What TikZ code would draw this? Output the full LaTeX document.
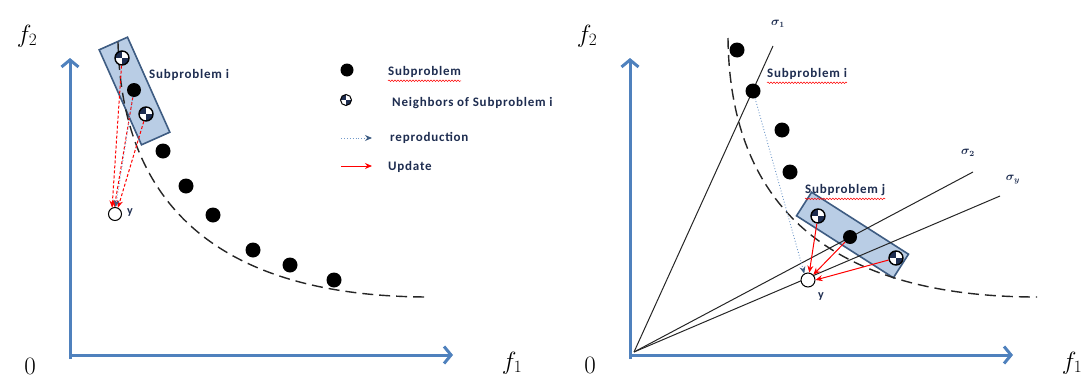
\documentclass[tikz,border=0pt]{standalone}
\usepackage{fontspec}
\setsansfont{Carlito}
\usetikzlibrary{arrows.meta,decorations.pathmorphing}

\definecolor{axisblue}{RGB}{79,129,189}
\definecolor{boxfill}{RGB}{185,205,229}
\definecolor{boxline}{RGB}{62,92,130}
\definecolor{labnavy}{RGB}{30,45,80}

\tikzset{
  axis/.style={axisblue,line width=3pt,-{Straight Barb[length=7pt,width=17pt]}},
  dot/.style={circle,fill=black,inner sep=0pt,minimum size=15pt},
  nbr/.style={circle,draw=black,line width=1.4pt,fill=white,inner sep=0pt,minimum size=14pt,
    path picture={
      \fill[labnavy] (path picture bounding box.center) rectangle (path picture bounding box.north west);
      \fill[labnavy] (path picture bounding box.center) rectangle (path picture bounding box.south east);
    }},
  sol/.style={circle,draw=black,fill=white,line width=1pt,inner sep=0pt,minimum size=13pt},
  subbox/.style={draw=boxline,line width=1.6pt,fill=boxfill,inner sep=0pt},
  lab/.style={font=\sffamily\bfseries\fontsize{13}{15}\selectfont\addfontfeature{LetterSpace=6},
    text=labnavy,inner sep=0pt,anchor=west},
  ylab/.style={font=\sffamily\bfseries\fontsize{12}{14}\selectfont,text=labnavy,inner sep=0pt,anchor=west},
  sig/.style={font=\fontsize{12}{14}\selectfont\boldmath,text=labnavy,inner sep=0pt},
  axlab/.style={font=\fontsize{25}{30}\selectfont,inner sep=0pt,anchor=base},
  upd/.style={red,line width=1pt,-{Stealth[length=7pt,width=6pt]}},
  updl/.style={upd,densely dashed},
  reprod/.style={axisblue!80,line width=0.9pt,dotted,-{Stealth[length=7pt,width=6pt,color=boxline]}},
  squig/.style={red,line width=0.5pt,decorate,decoration={snake,amplitude=0.8pt,segment length=3pt}},
  ray/.style={black!85,line width=1pt},
  front/.style={black!85,line width=1.4pt,dash pattern=on 11pt off 6pt}
}

\begin{document}
\begin{tikzpicture}[x=1pt,y=-1pt]
  \useasboundingbox (0,0) rectangle (1087,383);

  % ---- left panel ----
  \node[subbox,minimum width=104pt,minimum height=31pt,rotate=-66] (boxi) at (134.5,91) {};
  \draw[front] (118,42) .. controls (122,230) and (250,297) .. (430,297);
  \coordinate (ol) at (70,359);
  \coordinate (olt) at (70,58);
  \coordinate (olx) at (70,355);
  \coordinate (olr) at (453,355);
  \draw[axis] (ol) -- (olt);
  \draw[axis] (olx) -- (olr);
  \node[axlab] (f2l) at (27,42) {$f_2$};
  \node[axlab] (f1l) at (512,369) {$f_1$};
  \node[axlab] (zl) at (30,374) {0};

  \foreach \x/\y [count=\k] in {163/151,186/186,213/215,253/250,290/265,334/280}
    \node[dot] (p\k) at (\x,\y) {};
  \node[nbr] (ni1) at (122,58) {};
  \node[dot,minimum size=14pt] (mi) at (134,90) {};
  \node[nbr] (ni2) at (146,114) {};
  \node[lab] (lbi) at (149,75) {Subproblem i};

  \node[sol] (yl) at (115,214) {};
  \node[ylab] (yll) at (127,213) {y};
  \draw[updl] (ni1) -- (yl.115);
  \draw[updl] (mi) -- (yl.95);
  \draw[updl] (ni2) -- (yl.65);
  \draw[reprod] (mi) -- (yl.85);

  % ---- legend ----
  \node[dot,minimum size=13pt] (lgd1) at (347,70) {};
  \node[lab] (lgt1) at (388,72) {Subproblem};
  \draw[squig] ([yshift=-3pt]lgt1.south west) -- ([yshift=-3pt]lgt1.south east);
  \node[nbr,minimum size=11pt,line width=1pt] (lgd2) at (346,100) {};
  \node[lab] (lgt2) at (392,103) {Neighbors of Subproblem i};
  \coordinate (lr1) at (341,138);
  \coordinate (lr2) at (372,138);
  \draw[reprod] (lr1) -- (lr2);
  \node[lab] (lgt3) at (390,138) {reproduction};
  \coordinate (lu1) at (341,166);
  \coordinate (lu2) at (372,166);
  \draw[upd] (lu1) -- (lu2);
  \node[lab] (lgt4) at (388,167) {Update};

  % ---- right panel ----
  \node[subbox,minimum width=115pt,minimum height=28pt,rotate=-32.6] (boxj) at (852.5,235) {};
  \coordinate (or) at (630,359);
  \coordinate (ort) at (630,58);
  \coordinate (orx) at (630,355);
  \coordinate (orr) at (1013,355);
  \draw[axis] (or) -- (ort);
  \draw[axis] (orx) -- (orr);
  \node[axlab] (f2r) at (587,42) {$f_2$};
  \node[axlab] (f1r) at (1072,369) {$f_1$};
  \node[axlab] (zr) at (590,373) {0};

  \coordinate (o2) at (634,352);
  \coordinate (s1) at (773,46);
  \coordinate (s2) at (973,172);
  \coordinate (sy) at (1000,196);
  \draw[ray] (o2) -- (s1);
  \draw[ray] (o2) -- (s2);
  \draw[ray] (o2) -- (sy);
  \node[sig] (ls1) at (778,24) {$\sigma_1$};
  \node[sig] (ls2) at (968,153) {$\sigma_2$};
  \node[sig] (lsy) at (1013,180) {$\sigma_y$};

  \draw[front] (728,38) .. controls (730,230) and (860,297) .. (1037,297);

  \foreach \x/\y [count=\k] in {737/50,753/91,782/130,790/172}
    \node[dot] (q\k) at (\x,\y) {};
  \node[lab] (lbri) at (767,74) {Subproblem i};
  \draw[squig] ([yshift=-3pt]lbri.south west) -- ([yshift=-3pt]lbri.south east);

  \node[nbr] (nj1) at (818,216) {};
  \node[dot,minimum size=14pt] (mj) at (850,237) {};
  \node[nbr] (nj2) at (896,258) {};
  \node[lab] (lbj) at (805,190) {Subproblem j};
  \draw[squig] ([yshift=-3pt]lbj.south west) -- ([yshift=-3pt]lbj.south east);

  \node[sol,minimum size=14pt] (yr) at (808,280) {};
  \node[ylab] (yrl) at (818,297) {y};
  \draw[reprod] (q2) -- (yr.120);
  \draw[upd] (nj1) -- (yr.80);
  \draw[upd] (mj) -- (yr.45);
  \draw[upd] (nj2) -- (yr.east);
\end{tikzpicture}
\end{document}
